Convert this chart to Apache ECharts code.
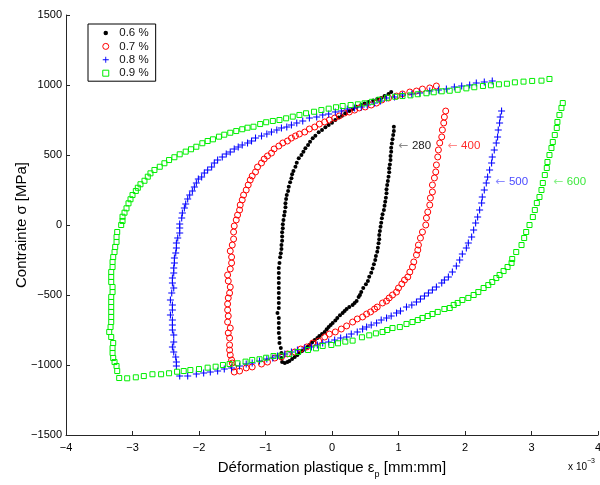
<!DOCTYPE html>
<html><head><meta charset="utf-8">
<script src="https://cdn.jsdelivr.net/npm/echarts@6/dist/echarts.min.js"></script>
<style>html,body{margin:0;padding:0;background:#fff}#c{width:600px;height:485px}</style>
</head><body><div id="c"></div>
<script>
// Strain in units of 1e-3 (mm:mm), stress in MPa
const seriesNames = ['0.6 %', '0.7 %', '0.8 %', '0.9 %'];
const seriesColors = ['#000000', '#ff0000', '#0000ff', '#00ee00'];

const loop06 = [
 [0.93,702],[0.93,671],[0.92,643],[0.91,612],[0.90,583],[0.89,552],[0.89,524],[0.88,493],[0.88,464],[0.87,433],[0.86,405],[0.86,376],[0.85,345],[0.84,314],[0.83,286],[0.82,255],[0.82,226],[0.81,195],[0.80,166],[0.79,138],[0.78,107],[0.76,76],[0.75,48],[0.74,16],[0.73,-12],[0.72,-43],[0.71,-71],[0.71,-102],[0.70,-131],[0.69,-162],[0.68,-191],[0.66,-221],[0.65,-250],[0.63,-281],[0.61,-310],[0.59,-341],[0.56,-369],[0.54,-400],[0.51,-424],
 [0.47,-450],[0.44,-479],[0.42,-500],[0.40,-514],[0.37,-543],[0.34,-557],[0.31,-571],[0.26,-586],[0.22,-600],[0.19,-614],[0.16,-629],[0.12,-645],[0.08,-664],[0.05,-683],[0.01,-700],[-0.02,-714],[-0.05,-729],[-0.08,-745],[-0.11,-764],[-0.15,-779],[-0.19,-793],[-0.22,-807],[-0.26,-821],[-0.30,-840],[-0.34,-857],[-0.37,-871],[-0.41,-886],[-0.45,-900],[-0.49,-914],[-0.52,-929],[-0.56,-943],[-0.60,-957],[-0.64,-971],[-0.67,-979],[-0.71,-986],
 [-0.75,-979],[-0.76,-950],[-0.76,-914],[-0.77,-879],[-0.79,-843],[-0.79,-807],[-0.80,-771],[-0.80,-736],[-0.80,-700],[-0.80,-664],[-0.82,-629],[-0.80,-593],[-0.80,-557],[-0.80,-521],[-0.80,-486],[-0.80,-450],[-0.80,-414],[-0.80,-379],[-0.80,-343],[-0.80,-307],[-0.79,-271],[-0.78,-231],[-0.77,-202],[-0.76,-171],[-0.76,-143],[-0.75,-112],[-0.75,-83],[-0.75,-52],[-0.74,-24],[-0.74,5],[-0.73,36],[-0.72,67],[-0.71,95],[-0.70,126],[-0.70,155],[-0.69,186],[-0.68,214],[-0.66,243],[-0.65,274],[-0.63,305],[-0.61,334],[-0.60,362],[-0.58,386],[-0.55,416],[-0.53,445],[-0.50,476],[-0.46,500],[-0.43,524],[-0.40,548],[-0.36,571],[-0.33,595],[-0.29,619],[-0.25,638],[-0.20,662],[-0.15,679],[-0.10,698],[-0.05,714],[0.00,731],[0.05,750],[0.10,767],[0.15,781],[0.20,798],[0.26,814],[0.31,829],[0.37,845],[0.44,857],[0.49,868],[0.55,879],[0.62,890],[0.68,900],[0.74,907],[0.79,921],[0.85,936],[0.89,950]
];
const loop07 = [
 [1.71,814],[1.69,771],[1.68,729],[1.66,679],[1.65,629],[1.62,586],[1.60,536],[1.59,486],[1.57,429],[1.56,379],[1.54,336],[1.51,286],[1.51,236],[1.48,193],[1.47,143],[1.44,93],[1.42,50],[1.41,0],[1.36,-50],[1.33,-93],[1.30,-143],[1.29,-179],[1.27,-214],[1.23,-264],[1.21,-300],[1.17,-336],[1.14,-371],[1.09,-393],[1.05,-421],[1.00,-450],[0.97,-479],[0.91,-500],[0.86,-521],[0.82,-543],[0.76,-557],[0.68,-586],[0.64,-600],[0.58,-621],[0.52,-636],[0.46,-657],[0.38,-671],[0.31,-693],[0.22,-721],[0.14,-743],[0.05,-764],[-0.04,-779],[-0.11,-800],[-0.20,-829],[-0.29,-843],[-0.38,-871],[-0.47,-886],[-0.56,-907],[-0.67,-921],[-0.76,-943],[-0.86,-950],[-0.97,-979],[-1.06,-993],[-1.20,-1014],[-1.29,-1021],[-1.39,-1043],[-1.47,-1050],
 [-1.48,-1014],[-1.50,-986],[-1.51,-964],[-1.53,-929],[-1.54,-893],[-1.54,-857],[-1.54,-807],[-1.56,-771],[-1.53,-736],[-1.57,-693],[-1.56,-650],[-1.57,-607],[-1.57,-564],[-1.56,-521],[-1.54,-486],[-1.53,-443],[-1.56,-400],[-1.57,-357],[-1.53,-314],[-1.51,-271],[-1.51,-229],[-1.53,-186],[-1.50,-143],[-1.48,-100],[-1.48,-50],[-1.47,-7],[-1.44,36],[-1.42,71],[-1.39,107],[-1.38,143],[-1.35,179],[-1.33,214],[-1.29,250],[-1.26,286],[-1.23,321],[-1.20,350],[-1.15,379],[-1.12,414],[-1.06,443],[-1.02,471],[-0.97,493],[-0.91,514],[-0.87,543],[-0.80,564],[-0.74,586],[-0.67,600],[-0.61,621],[-0.55,636],[-0.49,650],[-0.41,664],[-0.34,686],[-0.26,700],[-0.19,721],[-0.11,736],[-0.04,750],[0.04,764],[0.11,779],[0.19,800],[0.26,807],[0.34,821],[0.41,836],[0.50,843],[0.59,857],[0.67,871],[0.75,893],[0.85,907],[0.97,921],[1.06,936],[1.17,950],[1.27,957],[1.36,971],[1.47,979],[1.57,993]
];
const loop08 = [
 [2.55,814],[2.53,771],[2.52,729],[2.50,679],[2.49,629],[2.47,586],[2.44,536],[2.41,486],[2.40,443],[2.37,393],[2.34,343],[2.32,300],[2.29,250],[2.26,200],[2.25,157],[2.22,107],[2.19,57],[2.16,14],[2.13,-36],[2.10,-86],[2.05,-129],[2.02,-164],[1.96,-207],[1.92,-250],[1.87,-293],[1.81,-336],[1.75,-371],[1.69,-393],[1.65,-414],[1.57,-443],[1.51,-464],[1.45,-486],[1.39,-507],[1.33,-529],[1.27,-550],[1.20,-571],[1.12,-586],[1.03,-614],[0.97,-629],[0.89,-650],[0.82,-664],[0.74,-679],[0.67,-700],[0.59,-714],[0.52,-729],[0.46,-743],[0.38,-764],[0.29,-779],[0.22,-800],[0.13,-807],[0.04,-821],[-0.05,-836],[-0.14,-843],[-0.22,-857],[-0.31,-871],[-0.41,-879],[-0.52,-893],[-0.61,-907],[-0.71,-921],[-0.82,-936],[-0.89,-950],[-0.98,-957],[-1.09,-971],[-1.20,-986],[-1.29,-993],[-1.39,-1007],[-1.51,-1021],[-1.62,-1029],[-1.72,-1043],[-1.83,-1050],[-1.93,-1057],[-2.04,-1064],[-2.17,-1079],[-2.29,-1079],
 [-2.34,-1007],[-2.34,-979],[-2.35,-943],[-2.38,-907],[-2.40,-871],[-2.38,-836],[-2.38,-786],[-2.40,-750],[-2.40,-714],[-2.40,-679],[-2.43,-643],[-2.40,-607],[-2.40,-571],[-2.43,-536],[-2.41,-486],[-2.38,-450],[-2.40,-414],[-2.40,-379],[-2.38,-343],[-2.38,-307],[-2.37,-271],[-2.37,-236],[-2.35,-200],[-2.34,-164],[-2.34,-129],[-2.32,-93],[-2.29,-57],[-2.29,-21],[-2.29,7],[-2.26,50],[-2.25,86],[-2.22,121],[-2.20,150],[-2.17,186],[-2.14,214],[-2.10,243],[-2.07,271],[-2.04,300],[-2.01,329],[-1.96,343],[-1.92,371],[-1.87,393],[-1.81,414],[-1.77,443],[-1.72,464],[-1.65,486],[-1.59,507],[-1.53,521],[-1.47,543],[-1.41,557],[-1.35,571],[-1.27,586],[-1.21,600],[-1.15,621],[-1.06,636],[-0.98,650],[-0.91,664],[-0.83,679],[-0.76,693],[-0.68,700],[-0.61,714],[-0.53,729],[-0.44,743],[-0.34,764],[-0.23,771],[-0.14,786],[-0.05,793],[0.05,807],[0.14,814],[0.23,829],[0.34,836],[0.44,843],[0.53,857],[0.64,871],[0.73,886],[0.82,907],[0.94,914],[1.06,929],[1.20,936],[1.32,943],[1.47,957],[1.60,964],[1.72,971],[1.84,986],[1.95,993],[2.07,1000],[2.17,1014],[2.29,1021],[2.41,1029]
];
const loop09 = [
 [3.47,871],[3.45,836],[3.42,786],[3.39,736],[3.38,693],[3.35,643],[3.32,593],[3.30,550],[3.27,500],[3.24,450],[3.23,407],[3.20,357],[3.17,300],[3.15,250],[3.12,200],[3.08,157],[3.05,107],[3.02,57],[2.97,0],[2.92,-50],[2.89,-93],[2.85,-143],[2.77,-193],[2.71,-243],[2.70,-271],[2.64,-300],[2.58,-329],[2.52,-357],[2.47,-379],[2.41,-407],[2.35,-429],[2.28,-450],[2.20,-479],[2.13,-500],[2.05,-521],[1.96,-536],[1.89,-557],[1.83,-571],[1.77,-593],[1.69,-600],[1.59,-621],[1.51,-636],[1.44,-650],[1.36,-664],[1.29,-679],[1.21,-693],[1.12,-707],[1.02,-729],[0.91,-736],[0.83,-750],[0.76,-764],[0.66,-774],[0.56,-788],[0.45,-802],[0.31,-826],[0.20,-833],[0.09,-845],[-0.01,-857],[-0.14,-864],[-0.24,-881],[-0.36,-893],[-0.51,-907],[-0.64,-921],[-0.77,-934],[-0.88,-936],[-0.99,-948],[-1.09,-959],[-1.20,-964],[-1.30,-976],[-1.42,-988],[-1.54,-993],[-1.64,-1000],[-1.75,-1012],[-1.87,-1019],[-2.00,-1029],[-2.13,-1036],[-2.23,-1043],[-2.33,-1048],[-2.45,-1059],[-2.57,-1066],[-2.70,-1066],[-2.83,-1079],[-2.95,-1088],[-3.08,-1095],[-3.20,-1093],
 [-3.23,-1043],[-3.24,-1007],[-3.27,-979],[-3.29,-950],[-3.30,-914],[-3.30,-879],[-3.29,-843],[-3.32,-800],[-3.35,-764],[-3.33,-729],[-3.32,-693],[-3.32,-657],[-3.32,-621],[-3.32,-586],[-3.32,-550],[-3.32,-514],[-3.30,-479],[-3.30,-443],[-3.32,-407],[-3.32,-371],[-3.32,-336],[-3.30,-300],[-3.30,-264],[-3.29,-229],[-3.27,-193],[-3.26,-157],[-3.24,-121],[-3.24,-86],[-3.23,-50],[-3.17,0],[-3.15,29],[-3.15,59],[-3.12,88],[-3.09,119],[-3.06,155],[-3.03,184],[-3.00,214],[-2.95,243],[-2.92,266],[-2.88,291],[-2.82,316],[-2.77,345],[-2.73,369],[-2.67,393],[-2.59,416],[-2.52,441],[-2.45,464],[-2.37,484],[-2.29,505],[-2.20,524],[-2.12,541],[-2.04,559],[-1.95,584],[-1.87,600],[-1.79,612],[-1.70,631],[-1.62,645],[-1.53,659],[-1.44,671],[-1.35,684],[-1.27,695],[-1.18,702],[-1.08,721],[-0.99,734],[-0.89,743],[-0.79,750],[-0.69,762],[-0.59,774],[-0.49,786],[-0.39,798],[-0.27,809],[-0.16,821],[-0.05,831],[0.06,841],[0.16,850],[0.28,857],[0.39,862],[0.49,869],[0.60,880],[0.71,895],[0.83,909],[0.95,916],[1.06,921],[1.18,926],[1.29,934],[1.42,941],[1.53,948],[1.65,955],[1.77,959],[1.89,966],[2.02,976],[2.14,984],[2.27,993],[2.39,998],[2.51,1005],[2.63,1009],[2.75,1019],[2.88,1024],[3.01,1029],[3.15,1031],[3.27,1043]
];

// Temperature annotations (text, anchor in data coords)
const tempLabels = ['280', '400', '500', '600'];
const tempLabelX = [1.00, 1.74, 2.46, 3.33];
const tempLabelY = [564, 564, 307, 307];
const tempTextColors = ['#222222', '#ff2a2a', '#4a4aff', '#3ee83e'];
const tempArrowColors = ['#8a8a8a', '#ff8a8a', '#8a8aff', '#8af08a'];

const FONT = 'Liberation Sans, Arial, Helvetica, sans-serif';
const plusPath = 'path://M0,2.55H6V3.45H0Z M2.55,0H3.45V6H2.55Z';
const squarePath = 'path://M0,0H6V6H0Z';

const chart = echarts.init(document.getElementById('c'), null, {renderer: 'canvas'});
const loops = [loop06, loop07, loop08, loop09];
const symbols = ['circle', 'circle', plusPath, 'rect'];
const sizes = [4, 6, 7, 5];
const minusFmt = v => String(v).replace('-', '\u2212');

const series = loops.map((d, i) => {
  const hollow = (i === 1 || i === 3);
  return {
    name: seriesNames[i],
    type: 'scatter',
    data: d,
    symbol: symbols[i],
    symbolSize: sizes[i],
    itemStyle: hollow
      ? {color: 'transparent', borderColor: seriesColors[i], borderWidth: 1, opacity: 1}
      : {color: seriesColors[i], borderWidth: 0, opacity: 1},
    emphasis: {disabled: true},
    z: 2 + i
  };
});

const legendIcons = [
  {name: seriesNames[0], icon: 'circle', itemStyle: {color: '#000', borderColor: '#fff', borderWidth: 1.5}},
  {name: seriesNames[1], icon: 'circle', itemStyle: {color: '#fff', borderColor: seriesColors[1], borderWidth: 1}},
  {name: seriesNames[2], icon: plusPath},
  {name: seriesNames[3], icon: squarePath, itemStyle: {color: '#fff', borderColor: seriesColors[3], borderWidth: 1}}
];

chart.setOption({
  animation: false,
  backgroundColor: '#fff',
  textStyle: {fontFamily: FONT},
  grid: {left: 66, right: 2, top: 15, bottom: 50, containLabel: false, outerBoundsMode: 'none'},
  legend: {
    orient: 'vertical', left: 88, top: 24,
    padding: [3, 7, 2, 14], itemGap: 1.4, itemWidth: 17, itemHeight: 6,
    borderColor: '#000', borderWidth: 1, backgroundColor: '#fff',
    textStyle: {fontSize: 11.5, color: '#111', fontFamily: FONT},
    data: legendIcons
  },
  xAxis: {
    type: 'value', min: -4, max: 4, interval: 1,
    name: '{a|Déformation plastique }{e|ε}{s|p}{a| [mm:mm]}',
    nameLocation: 'middle', nameGap: 22, nameMoveOverlap: false,
    nameTextStyle: {
      fontFamily: FONT, color: '#000',
      rich: {
        a: {fontSize: 15, fontFamily: FONT, color: '#000', lineHeight: 22},
        e: {fontSize: 15, fontFamily: FONT, color: '#000', lineHeight: 22},
        s: {fontSize: 9, fontFamily: FONT, color: '#000', lineHeight: 8, verticalAlign: 'bottom'}
      }
    },
    axisLine: {show: true, onZero: false, lineStyle: {color: '#262626', width: 1}},
    axisTick: {show: true, inside: true, length: 4, lineStyle: {color: '#262626'}},
    axisLabel: {fontSize: 11, color: '#000', margin: 7, fontFamily: FONT, formatter: minusFmt},
    splitLine: {show: false}
  },
  yAxis: {
    type: 'value', min: -1500, max: 1500, interval: 500,
    name: 'Contrainte σ [MPa]',
    nameLocation: 'middle', nameGap: 37, nameMoveOverlap: false,
    nameTextStyle: {fontSize: 15, color: '#000', fontFamily: FONT},
    axisLine: {show: true, onZero: false, lineStyle: {color: '#262626', width: 1}},
    axisTick: {show: true, inside: true, length: 4, lineStyle: {color: '#262626'}},
    axisLabel: {fontSize: 11, color: '#000', margin: 4, fontFamily: FONT, formatter: minusFmt},
    splitLine: {show: false}
  },
  series: series
});

// annotations and exponent
const graphics = tempLabels.map((t, i) => {
  const p = chart.convertToPixel({gridIndex: 0}, [tempLabelX[i], tempLabelY[i]]);
  return {
    type: 'text', x: p[0], y: p[1], z: 100,
    style: {
      text: '{a|←} {b|' + t + '}',
      verticalAlign: 'middle', align: 'left',
      rich: {
        a: {fontSize: 12, fontFamily: 'DejaVu Sans', fill: tempArrowColors[i]},
        b: {fontSize: 11.5, fontFamily: FONT, fill: tempTextColors[i]}
      }
    }
  };
});
graphics.push({
  type: 'text', right: 5, top: 458, z: 100,
  style: {
    text: '{a|x 10}{b|\u22123}',
    rich: {
      a: {fontSize: 10, fontFamily: FONT, fill: '#000', lineHeight: 14, verticalAlign: 'bottom'},
      b: {fontSize: 7, fontFamily: FONT, fill: '#000', lineHeight: 14, verticalAlign: 'top'}
    }
  }
});
chart.setOption({graphic: graphics});
</script>
</body></html>
